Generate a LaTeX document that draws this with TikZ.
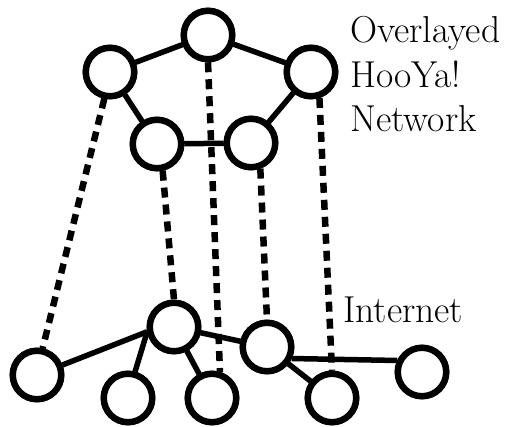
\documentclass[tikz,border=0pt]{standalone}
\begin{document}
\begin{tikzpicture}[x=1pt,y=-1pt,
  peer/.style={circle,draw=black,line width=6.5pt,fill=white,minimum size=48pt,inner sep=0pt},
  link/.style={line width=5.5pt,black},
  overlay/.style={line width=6.5pt,black,dash pattern=on 10pt off 7pt},
  lbl/.style={anchor=base west,inner sep=0pt,font=\fontsize{37.5}{44}\selectfont}]
\useasboundingbox (0,0) rectangle (505,427);
% overlay network
\node[peer] (t)  at (208,35) {};
\node[peer] (tl) at (110,72) {};
\node[peer] (tr) at (311,72) {};
\node[peer] (ml) at (157,144) {};
\node[peer] (mr) at (251,143) {};
% internet
\node[peer] (c)  at (174,327) {};
\node[peer] (b2) at (267,347) {};
\node[peer] (l)  at (37,375) {};
\node[peer] (b1) at (128,398) {};
\node[peer] (b3) at (212,398) {};
\node[peer] (b4) at (332,398) {};
\node[peer] (r)  at (422,372) {};
% solid links
\draw[link] (tl) -- (t);
\draw[link] (t) -- (tr);
\draw[link] (tl) -- (ml);
\draw[link] (ml) -- (mr);
\draw[link] (mr) -- (tr);
\draw[link] (c.190) -- (l);
\draw[link] (c.190) -- (b1.75);
\draw[link] (c) -- (b3);
\draw[link] (c) -- (b2);
\draw[link] (b2) -- (b4);
\draw[link] (b2.-25) -- (r.155);
% redraw nodes on top of links
\foreach \n in {t,tl,tr,ml,mr,c,b2,l,b1,b3,b4,r}{
  \draw[line width=6.5pt,fill=white] (\n.center) circle (24.25pt);
}
% dashed mapping lines
\draw[overlay] (t.south) -- (b3.73);
\draw[overlay] (ml.-78) -- (c.north);
\draw[overlay] (mr.-70) -- (b2.north);
\draw[overlay] (tr.-72) -- (b4.north);
\draw[overlay] (tl.-102) -- (l.78);
% labels
\node[lbl] (o1) at (350,43) {Overlayed};
\node[lbl] (o2) at (350,88) {HooYa!};
\node[lbl] (o3) at (350,132) {Network};
\node[lbl] (inet) at (343,322) {Internet};
\end{tikzpicture}
\end{document}
